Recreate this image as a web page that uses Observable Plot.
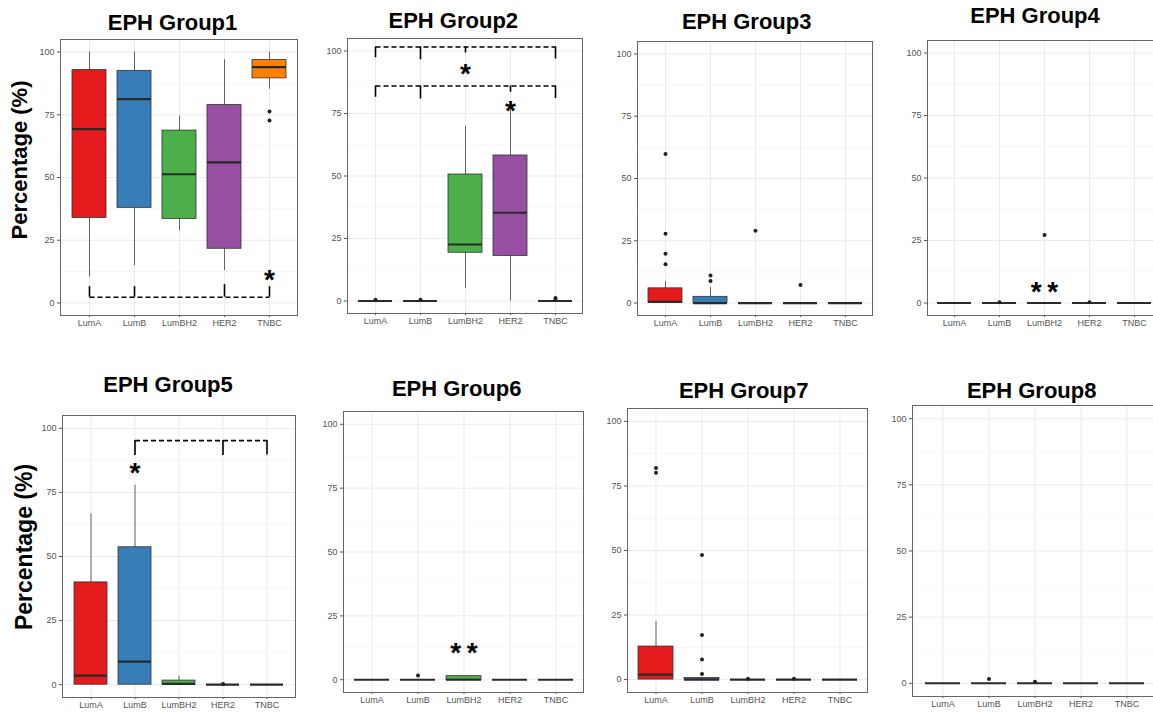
<!DOCTYPE html>
<html><head><meta charset="utf-8">
<script src="https://cdn.jsdelivr.net/npm/d3@7"></script>
<script src="https://cdn.jsdelivr.net/npm/@observablehq/plot@0.6"></script>
<style>
body{margin:0;background:#fff;}
#root{position:relative;width:1153px;height:712px;overflow:hidden;font-family:"Liberation Sans",Arial,sans-serif;background:#fff;}
.title{position:absolute;font-weight:bold;font-size:22px;white-space:nowrap;transform:translateX(-50%);line-height:1;color:#000;}
.ylab{position:absolute;font-weight:bold;font-size:22px;white-space:nowrap;transform:translate(-50%,-50%) rotate(-90deg);line-height:1;color:#000;}
.panel{position:absolute;}
.panel svg{max-width:none !important;}
</style></head><body><div id="root"></div>
<script>
// ---------- data ----------
const categories = ["LumA", "LumB", "LumBH2", "HER2", "TNBC"];
const titles = ["EPH Group1","EPH Group2","EPH Group3","EPH Group4","EPH Group5","EPH Group6","EPH Group7","EPH Group8"];
const yTicks = [0, 25, 50, 75, 100];
const yMinor = [12.5, 37.5, 62.5, 87.5];
const yLabel = "Percentage (%)";

// box statistics per group (rows) and subtype (columns)
const lower  = [[10.3,14.9,28.7,12.9,85.2],[0,0,5.1,0,0],[0,0,0,0,0],[0,0,0,0,0],[0,0,0,0,0],[0,0,0,0,0],[0,0,0,0,0],[0,0,0,0,0]];
const q1     = [[33.9,37.9,33.5,21.6,89.5],[0,0,19.3,18.0,0],[0,0,0,0,0],[0,0,0,0,0],[0,0,0,0,0],[0,0,0,0,0],[0,0,0,0,0],[0,0,0,0,0]];
const median = [[69.3,81.2,51.3,56.0,94.0],[0,0,22.6,35.3,0],[0.5,0,0,0,0],[0,0,0,0,0],[3.5,9.0,0.3,0,0],[0,0,0,0,0],[1.9,0,0,0,0],[0,0,0,0,0]];
const q3     = [[92.8,92.5,68.7,78.9,96.8],[0,0,50.6,58.2,0],[5.9,2.5,0,0,0],[0,0,0,0,0],[39.9,53.6,1.6,0,0],[0,0,1.4,0,0],[12.8,0.6,0,0,0],[0,0,0,0,0]];
const upper  = [[100,100,74.5,96.9,100],[0,0,69.9,77.9,0],[8.5,6.3,0,0,0],[0,0,0,0,0],[66.7,77.8,3.3,0,0],[0,0,1.4,0,0],[22.5,0.6,0,0,0],[0,0,0,0,0]];
const outliers = [
  [["TNBC",76.3],["TNBC",72.7]],
  [["LumA",0.5],["LumB",0.5],["TNBC",1.2],["TNBC",0.6]],
  [["LumA",59.8],["LumA",27.8],["LumA",19.8],["LumA",15.6],["LumB",11.1],["LumB",8.9],["LumBH2",29.0],["HER2",7.2]],
  [["LumB",0.3],["LumBH2",27.2],["HER2",0.3]],
  [["HER2",0.3]],
  [["LumB",1.7]],
  [["LumA",82.0],["LumA",80.1],["LumB",48.3],["LumB",17.3],["LumB",7.8],["LumB",2.2],["LumBH2",0.3],["HER2",0.3]],
  [["LumB",1.6],["LumBH2",0.6]]
];

// significance annotations
const bracketLines = [
  {panel:0, from:"LumA", to:"TNBC", y:2.3},
  {panel:1, from:"LumA", to:"TNBC", y:101.6},
  {panel:1, from:"LumA", to:"TNBC", y:86.0},
  {panel:4, from:"LumB", to:"TNBC", y:95.2}
];
const bracketLegs = [
  {panel:0, cat:"LumA", y1:2.3, y2:6.5},{panel:0, cat:"LumB", y1:2.3, y2:6.5},
  {panel:0, cat:"HER2", y1:2.3, y2:7.3},{panel:0, cat:"TNBC", y1:2.3, y2:6.5},
  {panel:1, cat:"LumA", y1:101.6, y2:97.3},{panel:1, cat:"LumB", y1:101.6, y2:96.5},
  {panel:1, cat:"LumBH2", y1:101.6, y2:99.2},{panel:1, cat:"TNBC", y1:101.6, y2:96.8},
  {panel:1, cat:"LumA", y1:86.0, y2:81.5},{panel:1, cat:"LumB", y1:86.0, y2:80.8},
  {panel:1, cat:"HER2", y1:86.0, y2:83.5},{panel:1, cat:"TNBC", y1:86.0, y2:81.0},
  {panel:4, cat:"LumB", y1:95.2, y2:89.4},{panel:4, cat:"HER2", y1:95.2, y2:89.4},
  {panel:4, cat:"TNBC", y1:95.2, y2:89.6}
];
const stars = [
  {panel:0, cat:"TNBC", y:10.9, label:"*"},
  {panel:1, cat:"LumBH2", y:92.4, label:"*"},
  {panel:1, cat:"HER2", y:77.6, label:"*"},
  {panel:3, cat:"LumBH2", y:6.0, label:"*\u2009*"},
  {panel:4, cat:"LumB", y:84.3, label:"*"},
  {panel:5, cat:"LumBH2", y:12.1, label:"*\u2009*"}
];

// ---------- style / layout ----------
const palette = ["#e41a1c","#377eb8","#4daf4a","#984ea3","#ff7f00"];
const frames = [
  [60,39,297,315],[347,38,582,313],[637,41,872,315],[927,40,1161,315],
  [62,415,295,697],[343,411,583,692],[627,408,867,692],[912,405,1156,696]
];
const titlePos = [[172.5,12.4],[453.3,10.4],[746.7,11.4],[1035,5.4],[168,374.4],[456.7,378.4],[743.7,380.4],[1031.7,380.4]];
const yLabelPos = [[19.6,160,22],[23.5,546.7,23]];
const mL = 32, mT = 6, mR = 6, mB = 24;

const root = document.getElementById("root");

frames.forEach(([L,T,R,B], p) => {
  const boxes = categories.map((c,i) => ({cat:c, lo:lower[p][i], q1:q1[p][i], med:median[p][i], q3:q3[p][i], hi:upper[p][i]}));
  const outs = outliers[p].map(([c,v]) => ({cat:c, v}));
  const lines = bracketLines.filter(d => d.panel === p);
  const legs = bracketLegs.filter(d => d.panel === p);
  const st = stars.filter(d => d.panel === p);
  const W = R - L + mL + mR, H = B - T + mT + mB;
  const chart = Plot.plot({
    width: W,
    height: H,
    marginLeft: mL, marginTop: mT, marginRight: mR, marginBottom: mB,
    style: {background:"transparent", fontFamily:"Liberation Sans, Arial, sans-serif", fontSize:"9px", color:"#555", overflow:"visible", maxWidth:"none"},
    x: {type:"band", domain:categories, paddingInner:0.25, paddingOuter:0.225, label:null, tickSize:2, tickPadding:2},
    y: {domain:[-5,105], ticks:yTicks, label:null, tickSize:3, tickPadding:3},
    color: {domain:categories, range:palette},
    marks: [
      Plot.ruleY(yMinor, {stroke:"#f3f3f3", strokeWidth:0.7}),
      Plot.ruleY(yTicks, {stroke:"#ebebeb", strokeWidth:1}),
      Plot.ruleX(categories, {stroke:"#ebebeb", strokeWidth:1}),
      Plot.ruleX(boxes, {x:"cat", y1:"lo", y2:"hi", stroke:"#555", strokeWidth:0.9}),
      Plot.barY(boxes, {x:"cat", y1:"q1", y2:"q3", fill:"cat", stroke:"#333", strokeWidth:0.8, inset:0}),
      Plot.tickY(boxes, {x:"cat", y:"med", stroke:"#2a2a2a", strokeWidth:2.2}),
      Plot.dot(outs, {x:"cat", y:"v", r:2, fill:"#222", stroke:null}),
      Plot.link(lines, {x1:"from", x2:"to", y1:"y", y2:"y", stroke:"#000", strokeWidth:1.6, strokeDasharray:"5,3"}),
      Plot.ruleX(legs, {x:"cat", y1:"y1", y2:"y2", stroke:"#000", strokeWidth:1.6}),
      Plot.text(st, {x:"cat", y:"y", text:"label", fontSize:28, fontWeight:"bold", dy:4, fill:"#000"}),
      Plot.frame({stroke:"#666", strokeWidth:1})
    ]
  });
  const div = document.createElement("div");
  div.className = "panel";
  div.style.left = (L - mL) + "px";
  div.style.top = (T - mT) + "px";
  div.style.width = W + "px";
  div.style.height = H + "px";
  div.appendChild(chart);
  root.appendChild(div);

  const t = document.createElement("div");
  t.className = "title";
  t.textContent = titles[p];
  t.style.left = titlePos[p][0] + "px";
  t.style.top = titlePos[p][1] + "px";
  root.appendChild(t);
});

yLabelPos.forEach(([x,y,fs]) => {
  const d = document.createElement("div");
  d.className = "ylab";
  d.textContent = yLabel;
  d.style.left = x + "px";
  d.style.top = y + "px";
  d.style.fontSize = fs + "px";
  root.appendChild(d);
});
</script>
</body></html>
